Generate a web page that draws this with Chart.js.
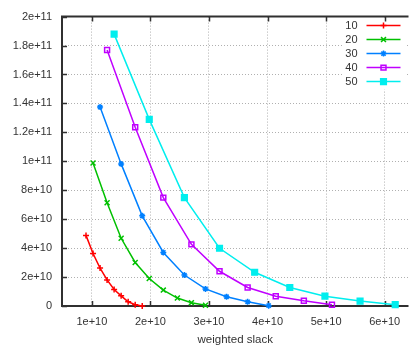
<!DOCTYPE html>
<html>
<head>
<meta charset="utf-8">
<script src="https://cdn.jsdelivr.net/npm/chart.js@4/dist/chart.umd.min.js"></script>
<style>
  html, body { margin: 0; padding: 0; background: #fff; }
  canvas { display: block; }
</style>
</head>
<body>
<canvas id="slackChart" width="414" height="352"></canvas>
<script>
// series labels (key entries)
const seriesNames = ["10", "20", "30", "40", "50"];

// weighted slack (x) and cost (y) per series
const slack10 = [0.90e10, 1.02e10, 1.14e10, 1.26e10, 1.38e10, 1.50e10, 1.62e10, 1.74e10, 1.86e10];
const cost10  = [4.88e10, 3.63e10, 2.62e10, 1.80e10, 1.14e10, 0.70e10, 0.29e10, 0.09e10, 0.00e10];

const slack20 = [1.02e10, 1.26e10, 1.50e10, 1.74e10, 1.98e10, 2.22e10, 2.46e10, 2.70e10, 2.94e10];
const cost20  = [9.88e10, 7.14e10, 4.68e10, 3.01e10, 1.90e10, 1.10e10, 0.55e10, 0.23e10, 0.05e10];

const slack30 = [1.14e10, 1.50e10, 1.86e10, 2.22e10, 2.58e10, 2.94e10, 3.30e10, 3.66e10, 4.02e10];
const cost30  = [13.75e10, 9.82e10, 6.23e10, 3.70e10, 2.14e10, 1.18e10, 0.64e10, 0.29e10, 0.02e10];

const slack40 = [1.26e10, 1.74e10, 2.22e10, 2.70e10, 3.18e10, 3.66e10, 4.14e10, 4.62e10, 5.10e10];
const cost40  = [17.69e10, 12.35e10, 7.49e10, 4.26e10, 2.40e10, 1.28e10, 0.68e10, 0.36e10, 0.09e10];

const slack50 = [1.38e10, 1.98e10, 2.58e10, 3.18e10, 3.78e10, 4.38e10, 4.98e10, 5.58e10, 6.18e10];
const cost50  = [18.79e10, 12.90e10, 7.49e10, 3.99e10, 2.33e10, 1.28e10, 0.68e10, 0.34e10, 0.09e10];

// axis ticks
const xTickValues = [1e10, 2e10, 3e10, 4e10, 5e10, 6e10];
const yTickValues = [0, 2e10, 4e10, 6e10, 8e10, 1e11, 1.2e11, 1.4e11, 1.6e11, 1.8e11, 2e11];
const xTitle = "weighted slack";

// gnuplot-like line colours and point types
const lineColors = ["#ff0000", "#00c000", "#0080ff", "#c000ff", "#00eeee"];
const pointStyles = ["cross", "crossRot", "star", "rect", "rect"];
const pointRadii = [3, 3.5, 3, 3.5, 4];
const pointFills = ["#ff0000", "#00c000", "#0080ff", "rgba(0,0,0,0)", "#00eeee"];

const FONT = "'Liberation Sans', Arial, sans-serif";
const TEXT = "#333";

const xs = [slack10, slack20, slack30, slack40, slack50];
const ys = [cost10, cost20, cost30, cost40, cost50];

const datasets = seriesNames.map((name, i) => ({
    label: name,
    data: xs[i].map((x, j) => ({ x: x, y: ys[i][j] })),
    borderColor: lineColors[i],
    backgroundColor: pointFills[i],
    borderWidth: 1.5,
    pointStyle: pointStyles[i],
    pointRadius: pointRadii[i],
    pointBorderWidth: 1.5,
    pointBorderColor: lineColors[i],
    pointBackgroundColor: pointFills[i],
    tension: 0,
    fill: false,
    clip: false,
}));

function expLabel(v) {
    return v === 0 ? "0" : Number(v).toExponential();
}

const frame = {
    id: "gnuplotFrame",
    beforeDatasetsDraw(chart) {
        const { ctx, chartArea } = chart;
        const { left, top, right, bottom } = chartArea;
        const xs = chart.scales.x, ys = chart.scales.y;
        ctx.save();

        // key area is opaque over the grid
        ctx.fillStyle = "#fff";
        ctx.fillRect(right - 66, top + 2, 63, 71);

        ctx.strokeStyle = "#303030";
        ctx.lineWidth = 2;
        ctx.beginPath();
        ctx.moveTo(right, top);
        ctx.lineTo(left, top);
        ctx.lineTo(left, bottom);
        ctx.lineTo(right, bottom);
        ctx.stroke();

        // inward tick marks
        ctx.lineWidth = 1.5;
        ctx.beginPath();
        xTickValues.forEach((v) => {
            const px = Math.round(xs.getPixelForValue(v)) + 0.5;
            ctx.moveTo(px, bottom);
            ctx.lineTo(px, bottom - 5);
            ctx.moveTo(px, top);
            ctx.lineTo(px, top + 5);
        });
        yTickValues.forEach((v) => {
            const py = Math.round(ys.getPixelForValue(v)) + 0.5;
            ctx.moveTo(left, py);
            ctx.lineTo(left + 5, py);
        });
        ctx.stroke();
        ctx.restore();
    },
    afterDraw(chart) {
        const { ctx, chartArea } = chart;
        const { left, top, right } = chartArea;
        ctx.save();
        ctx.fillStyle = TEXT;

        // axis title
        ctx.font = "11.5px " + FONT;
        ctx.textAlign = "center";
        ctx.textBaseline = "middle";
        ctx.fillText(xTitle, (left + right) / 2, 340);

        // key: label on the left, line sample with point on the right
        ctx.font = "11px " + FONT;
        chart.data.datasets.forEach((ds, i) => {
            const y = top + 9 + i * 14;
            ctx.fillStyle = TEXT;
            ctx.textAlign = "right";
            ctx.fillText(ds.label, right - 51, y);

            ctx.strokeStyle = ds.borderColor;
            ctx.lineWidth = ds.borderWidth;
            ctx.beginPath();
            ctx.moveTo(right - 42, y);
            ctx.lineTo(right - 8, y);
            ctx.stroke();

            ctx.fillStyle = ds.pointBackgroundColor;
            Chart.helpers.drawPoint(ctx, {
                pointStyle: ds.pointStyle,
                radius: ds.pointRadius,
                borderWidth: ds.pointBorderWidth,
                rotation: 0,
            }, right - 25, y);
        });
        ctx.restore();
    },
};

new Chart(document.getElementById("slackChart"), {
    type: "line",
    data: { datasets },
    options: {
        responsive: false,
        animation: false,
        events: [],
        layout: { padding: { top: 14, right: 0, left: 0, bottom: 0 } },
        plugins: {
            legend: { display: false },
            tooltip: { enabled: false },
        },
        scales: {
            x: {
                type: "linear",
                min: 0.49e10,
                max: 6.407e10,
                afterBuildTicks: (s) => { s.ticks = xTickValues.map((v) => ({ value: v })); },
                afterFit: (s) => { s.height = 46; },
                ticks: {
                    padding: 9,
                    color: TEXT,
                    font: { family: FONT, size: 11 },
                    maxRotation: 0,
                    autoSkip: false,
                    callback: expLabel,
                },
                grid: { color: "#b0b0b0", lineWidth: 1, drawTicks: false },
                border: { display: false, dash: [1, 2] },
            },
            y: {
                type: "linear",
                min: 0,
                max: 2e11,
                afterBuildTicks: (s) => { s.ticks = yTickValues.map((v) => ({ value: v })); },
                afterFit: (s) => { s.width = 62; },
                ticks: {
                    padding: 10,
                    color: TEXT,
                    font: { family: FONT, size: 11 },
                    autoSkip: false,
                    callback: expLabel,
                },
                grid: { color: "#b0b0b0", lineWidth: 1, drawTicks: false },
                border: { display: false, dash: [1, 2] },
            },
        },
    },
    plugins: [frame],
});
</script>
</body>
</html>
